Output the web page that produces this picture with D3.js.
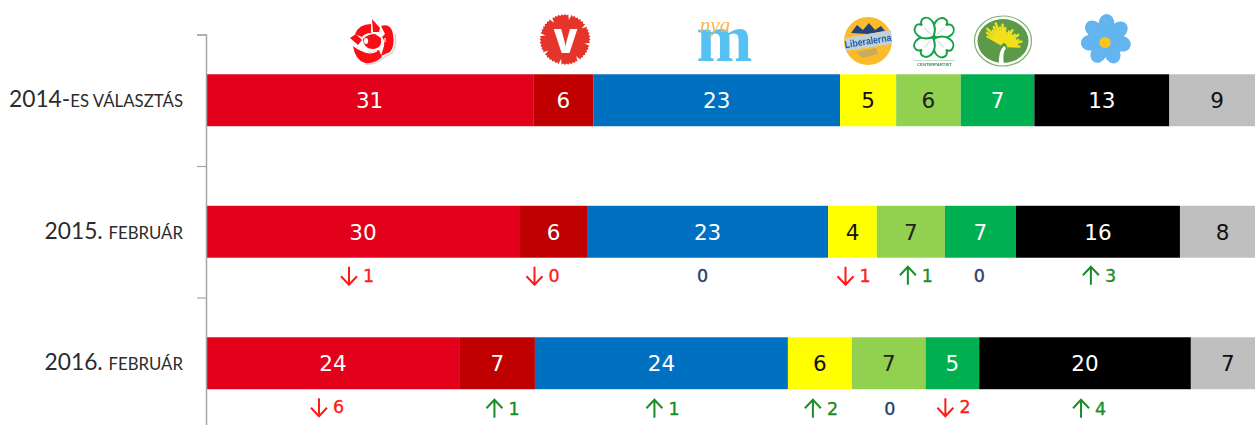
<!DOCTYPE html>
<html><head><meta charset="utf-8">
<script src="https://cdn.jsdelivr.net/npm/d3@7"></script>
<style>html,body{margin:0;background:#fff;overflow:hidden}svg{display:block}</style>
</head><body><svg id="c" width="1255" height="425"></svg>
<script>
const rowYears = ["2014-", "2015.", "2016."];
const rowSuffix = ["es választás", "február", "február"];
const parties = ["S", "V", "M", "L", "C", "MP", "SD", "Other"];
const partyColors = ["#e2001a", "#c00000", "#0070c0", "#ffff00", "#92d050", "#00b050", "#000000", "#bfbfbf"];
const labelColors = ["#fff", "#fff", "#fff", "#111", "#222", "#fff", "#fff", "#111"];
const values2014 = [30.9, 5.67, 23.3, 5.3, 6.1, 6.95, 12.75, 9.03];
const values2015 = [29.65, 6.33, 22.77, 4.6, 6.42, 6.7, 15.5, 8.03];
const values2016 = [23.98, 7.08, 23.89, 6.04, 6.96, 5.06, 19.99, 7.0];
const labels2014 = [31, 6, 23, 5, 6, 7, 13, 9];
const labels2015 = [30, 6, 23, 4, 7, 7, 16, 8];
const labels2016 = [24, 7, 24, 6, 7, 5, 20, 7];
const delta2015 = [["down",1],["down",0],["none",0],["down",1],["up",1],["none",0],["up",3]];
const delta2016 = [["down",6],["up",1],["up",1],["up",2],["none",0],["down",2],["up",4]];
const deltaShift2015 = [-5,-10,-5,2,6,-1,2];
const deltaShift2016 = [-5,6,2,2,1,2,5];

const svg = d3.select("#c");
const allValues = [values2014, values2015, values2016];
const allLabels = [labels2014, labels2015, labels2016];
const x = d3.scaleLinear().domain([0, 100]).range([206, 1265]);
const y = d3.scaleBand().domain(d3.range(3)).range([34.5, 429]).paddingInner(0.605).paddingOuter(0.3025);
const yEdges = d3.scaleLinear().domain([0, 3]).range([34.5, 429]);

const stackRows = allValues.map(v => Object.fromEntries(parties.map((p, i) => [p, v[i]])));
const series = d3.stack().keys(parties)(stackRows);
const labelFont = '"DejaVu Sans",sans-serif';

series.forEach((s, pi) => {
  const g = svg.append("g");
  g.selectAll("rect").data(s).join("rect")
    .attr("x", d => x(d[0])).attr("width", d => x(d[1]) - x(d[0]))
    .attr("y", (d, i) => y(i)).attr("height", y.bandwidth())
    .attr("fill", partyColors[pi]);
  g.selectAll("text").data(s).join("text")
    .attr("x", d => (x(d[0]) + x(d[1])) / 2)
    .attr("y", (d, i) => y(i) + y.bandwidth() / 2 + 8)
    .attr("text-anchor", "middle").attr("font-family", labelFont).attr("font-size", 21.5)
    .attr("fill", labelColors[pi]).text((d, i) => allLabels[i][pi]);
});

// axis
const axis = svg.append("g").attr("transform", "translate(206,0)")
  .call(d3.axisLeft(yEdges).tickValues([0, 1, 2, 3]).tickSize(9).tickFormat(""));
axis.selectAll("path,line").attr("stroke", "#a6a6a6").attr("stroke-width", 1.2);
axis.select("path").attr("stroke-width", 1.5);

// row labels
rowYears.forEach((yr, i) => {
  const t = svg.append("text").attr("x", 183).attr("y", y(i) + y.bandwidth() / 2 + 7)
    .attr("text-anchor", "end").attr("font-family", "Lato,Carlito,sans-serif").attr("fill", "#2b2b2b");
  t.append("tspan").attr("font-size", 22.8).text(yr + (i ? " " : ""));
  t.append("tspan").attr("font-size", 16.8).text(rowSuffix[i].toUpperCase());
});

// change markers
function drawDelta(list, shift, row) {
  const s = series.map(ss => ss[row]);
  list.forEach(([dir, n], i) => {
    const cx = (x(s[i][0]) + x(s[i][1])) / 2 + shift[i];
    const base = y(row) + y.bandwidth();
    const cy = base + (row === 1 ? 18 : (dir === "down" ? 18 : 19.5));
    const col = dir === "down" ? "#ff1a1a" : dir === "up" ? "#1c8c2a" : "#24406e";
    const g = svg.append("g");
    const txt = g.append("text").attr("font-family", labelFont).attr("font-size", 17.5).attr("fill", col)
      .attr("stroke", col).attr("stroke-width", 0.35).attr("y", cy + 6).text(n);
    if (dir === "none") { txt.attr("x", cx).attr("text-anchor", "middle"); return; }
    const ax = cx - 9, s1 = dir === "down" ? 1 : -1;
    g.append("path").attr("fill", "none").attr("stroke", col).attr("stroke-width", 2)
      .attr("d", `M${ax},${cy - 9 * s1}L${ax},${cy + 9 * s1}M${ax - 8},${cy + 0.5 * s1}L${ax},${cy + 9 * s1}L${ax + 8},${cy + 0.5 * s1}`);
    txt.attr("x", cx + 5);
  });
}
drawDelta(delta2015, deltaShift2015, 1);
drawDelta(delta2016, deltaShift2016, 2);

// logos
const defs = svg.append("defs");
defs.append("filter").attr("id", "soft").append("feGaussianBlur").attr("stdDeviation", 0.5);
const logos = svg.append("g").attr("filter", "url(#soft)");

// rose
const rose = logos.append("g").attr("transform", "translate(373,42)");
rose.append("path").attr("fill", "none").attr("stroke", "#d8d8d8").attr("stroke-width", 1.6)
  .attr("d", "M22,-8Q24,4 19,11L10,16Q3,23 -8,22");
[
  "M-18,-8Q-14,-18 -2,-18L-2,-9Q-8,-9 -11,-5Z",
  "M-1,-23L7,-14L6,-10L-0,-10Z",
  "M8,-16Q18,-19 20,-8Q22,4 17,10L8,14L11,4Q12,-2 9,-5L12,-8Z",
  "M-23,-4L-17,-8L-11,-2L-15,3Z",
  "M-10,-3Q-5,-8 2,-8L8,-4Q9,4 4,6Q0,8 -5,6Q-10,3 -10,-3Z",
  "M-20,4Q-8,14 6,8L9,15Q2,22 -8,21Q-18,18 -20,4Z"
].forEach(d => rose.append("path").attr("d", d).attr("fill", "#fb0d12"));
rose.append("ellipse").attr("cx", -7).attr("cy", -1).attr("rx", 2.2).attr("ry", 3).attr("fill", "#fff");
rose.append("path").attr("fill", "none").attr("stroke", "#fff").attr("stroke-width", 1.2)
  .attr("d", "M-12,8Q-4,13 4,9M12,-4L12,0");

// V
const vPts = d3.range(96).map(i => {
  const a = i / 96 * 2 * Math.PI, notch = i % 12 === 3;
  return [a, notch ? 20 : (i % 2 ? 24 : 25.5)];
});
logos.append("path").attr("transform", "translate(565,39.5)").attr("fill", "#e5352c")
  .attr("d", d3.lineRadial().curve(d3.curveLinearClosed)(vPts));
logos.append("text").attr("x", 565.5).attr("y", 53).attr("text-anchor", "middle").attr("font-family", '"Open Sans",sans-serif')
  .attr("font-weight", 800).attr("font-size", 34).attr("fill", "#fff").text("V");

// m
logos.append("text").attr("x", 724.5).attr("y", 60.5).attr("text-anchor", "middle")
  .attr("font-family", '"Liberation Serif",serif').attr("font-weight", 700).attr("font-size", 67)
  .attr("fill", "#56c1f3").text("m");
logos.append("text").attr("x", 715).attr("y", 32).attr("text-anchor", "middle")
  .attr("font-family", '"Liberation Serif",serif').attr("font-style", "italic").attr("font-size", 21)
  .attr("fill", "#f7b551").text("nya");

// Liberalerna
const lib = logos.append("g").attr("transform", "translate(868,41)");
lib.append("circle").attr("r", 24).attr("fill", "#fcbb2a");
lib.append("path").attr("d", "M-17,-8L-11,-16L-5,-11L1,-18L7,-11L13,-15L17,-10L0,-7Z").attr("fill", "#27427a");
lib.append("path").attr("d", "M-23,-3L23,-11L24,3L-22,10Z").attr("fill", "#c3d0da");
lib.append("path").attr("d", "M-12,11L8,7L10,13L-6,17Z").attr("fill", "#c9ab5c");
lib.append("text").attr("transform", "rotate(-9)").attr("y", 3.5).attr("text-anchor", "middle")
  .attr("font-family", '"Liberation Sans",sans-serif').attr("font-weight", 700).attr("font-size", 10)
  .attr("textLength", 47).attr("lengthAdjust", "spacingAndGlyphs").attr("fill", "#1a5fa8").text("Liberalerna");

// clover
const clover = logos.append("g").attr("transform", "translate(934,37.5)");
[45, 135, 225, 315].forEach(r => {
  const leaf = clover.append("g").attr("transform", `rotate(${r})`);
  leaf.append("path").attr("d", "M0,-1C-12,-6 -13,-19 -5,-21C-2,-22 0,-19 0,-17C0,-19 3,-22 6,-21C13,-19 12,-6 0,-1Z")
    .attr("fill", "#fff").attr("stroke", "#17a14a").attr("stroke-width", 2);
  leaf.append("line").attr("y1", -4).attr("y2", -14).attr("stroke", "#9ad3ad").attr("stroke-width", 0.8);
});
logos.append("line").attr("x1", 914).attr("x2", 955).attr("y1", 60.5).attr("y2", 60.5)
  .attr("stroke", "#bfe3c9").attr("stroke-width", 1);
logos.append("text").attr("x", 934.5).attr("y", 66).attr("text-anchor", "middle")
  .attr("font-family", '"Liberation Sans",sans-serif').attr("font-size", 4.2).attr("font-weight", 700)
  .attr("fill", "#3a8f5a").text("CENTERPARTIET");

// MP
const mp = logos.append("g").attr("transform", "translate(1003,41)");
mp.append("ellipse").attr("rx", 28.5).attr("ry", 25).attr("fill", "#fff").attr("stroke", "#7fb06d").attr("stroke-width", 1.2);
mp.append("ellipse").attr("rx", 25.5).attr("ry", 22).attr("fill", "#5a9a48");
mp.append("path").attr("d", "M-4,24Q-5,10 1,5L3,7Q-1,12 1,24Z").attr("fill", "#fff");
d3.range(20).forEach(i => {
  const a = -150 + i * 8, len = 14 + (i % 3) * 2.5 + (i < 8 ? 6 : 0);
  mp.append("line").attr("transform", `translate(1,5) rotate(${a})`)
    .attr("x1", 3).attr("x2", len).attr("stroke", "#f3e01e").attr("stroke-width", 2.4);
});

// SD flower
const sd = logos.append("g").attr("transform", "translate(1106,39.5)");
d3.range(7).forEach(i => {
  sd.append("ellipse").attr("cx", 0).attr("cy", -16).attr("rx", 7.8).attr("ry", 9.5)
    .attr("transform", `rotate(${i * 360 / 7 + 2})`).attr("fill", "#62b5ee");
});
sd.append("circle").attr("r", 11).attr("fill", "#62b5ee");
sd.append("circle").attr("cx", -1).attr("cy", 3).attr("r", 5.6).attr("fill", "#f7c51e");
</script></body></html>
